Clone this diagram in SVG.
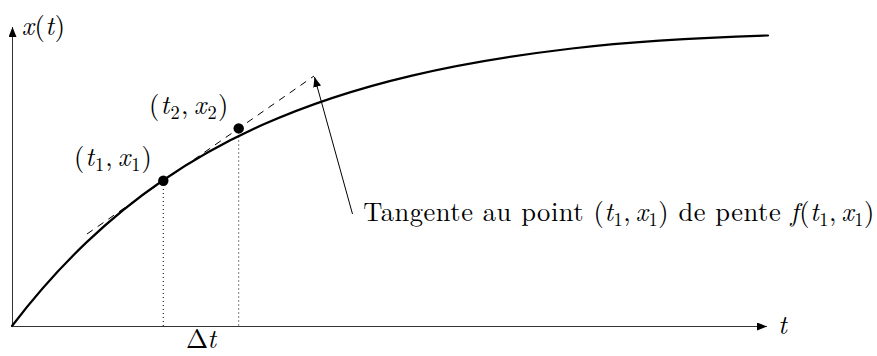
<svg xmlns="http://www.w3.org/2000/svg" width="877" height="356" viewBox="0 0 877 356">
<style>
.axis{stroke:#333;stroke-width:1;fill:none}
.dot{stroke:#000;stroke-width:1;stroke-dasharray:1 3;fill:none}
.dash{stroke:#000;stroke-width:1;stroke-dasharray:7 6;fill:none}
.curve{stroke:#000;stroke-width:2.2;fill:none;stroke-linecap:round}
</style>
<defs>
<marker id="ah" markerUnits="userSpaceOnUse" markerWidth="10" markerHeight="8" viewBox="0 0 10 8" refX="10" refY="4" orient="auto">
<path d="M0,0 L10,4 L0,8 z" fill="#000"/>
</marker>
</defs>
<rect width="877" height="356" fill="#fff"/>
<g id="connectors">
<line class="axis" x1="12.5" y1="326.5" x2="12.5" y2="27" marker-end="url(#ah)"/>
<line class="axis" x1="12.5" y1="326.5" x2="767" y2="326.5" marker-end="url(#ah)"/>
<line class="dot" x1="163.3" y1="181" x2="163.3" y2="326"/>
<line class="dot" x1="238.7" y1="128.5" x2="238.7" y2="326"/>
<line class="dash" x1="87" y1="234" x2="314" y2="76"/>
<line stroke="#000" stroke-width="1" x1="352.5" y1="214" x2="314.5" y2="77" marker-end="url(#ah)"/>
</g>
<g id="curve">
<path class="curve" d="M12,326 C37,293.2 62,265.65 87,241.9 C112,218.15 137,198.2 162,181 C195.33,158.07 228.67,140.02 262,125.1 C312,102.72 362,87.35 412,75.6 C465.33,63.07 518.67,54.79 572,48.5 C637.33,40.8 702.67,37.5 768,35.5"/>
</g>
<g font-family="'Latin Modern Roman', 'Liberation Serif', serif" font-size="26.5" fill="#000">
<g id="point1">
<circle cx="163.3" cy="180.8" r="5.2" fill="#000"/>
<text x="74" y="166" textLength="77.7">(<tspan font-style="italic">t</tspan><tspan font-size="18.5" dy="4.5">1</tspan><tspan dy="-4.5">,</tspan><tspan font-style="italic" dx="4.4">x</tspan><tspan font-size="18.5" dy="4.5">1</tspan><tspan dy="-4.5">)</tspan></text>
</g>
<g id="point2">
<circle cx="238.7" cy="128.4" r="5.2" fill="#000"/>
<text x="149" y="114" textLength="79.3">(<tspan font-style="italic">t</tspan><tspan font-size="18.5" dy="4.5">2</tspan><tspan dy="-4.5">,</tspan><tspan font-style="italic" dx="4.4">x</tspan><tspan font-size="18.5" dy="4.5">2</tspan><tspan dy="-4.5">)</tspan></text>
</g>
<g id="axis-labels">
<text x="21.7" y="34.5" textLength="43.3"><tspan font-style="italic">x</tspan>(<tspan font-style="italic">t</tspan>)</text>
<text x="778" y="334" font-style="italic">t</text>
<text x="186" y="348" textLength="30">Δ<tspan font-style="italic">t</tspan></text>
</g>
<g id="annotation">
<text x="363.3" y="221" textLength="511">Tangente au point (<tspan font-style="italic">t</tspan><tspan font-size="18.5" dy="4.5">1</tspan><tspan dy="-4.5">,</tspan><tspan font-style="italic" dx="4.4">x</tspan><tspan font-size="18.5" dy="4.5">1</tspan><tspan dy="-4.5">) de pente </tspan><tspan font-style="italic">f</tspan>(<tspan font-style="italic">t</tspan><tspan font-size="18.5" dy="4.5">1</tspan><tspan dy="-4.5">,</tspan><tspan font-style="italic" dx="4.4">x</tspan><tspan font-size="18.5" dy="4.5">1</tspan><tspan dy="-4.5">)</tspan></text>
</g>
</g>
</svg>
